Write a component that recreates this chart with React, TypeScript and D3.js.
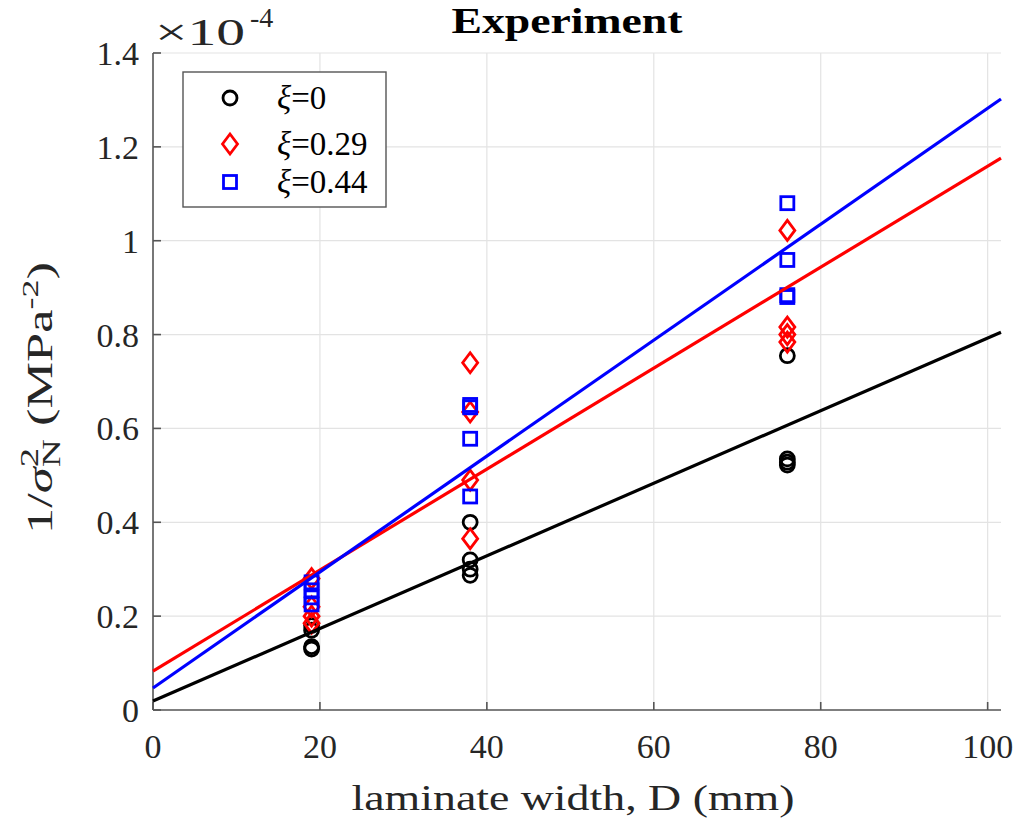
import React from "react";
import * as d3 from "d3";

// ---- data ----
const xTicks = [0, 20, 40, 60, 80, 100];
const yTicks = [0, 0.2, 0.4, 0.6, 0.8, 1, 1.2, 1.4];
const yTickLabels = ["0", "0.2", "0.4", "0.6", "0.8", "1", "1.2", "1.4"];

const xi0D = [19, 19, 19, 19, 38, 38, 38, 38, 76, 76, 76, 76];
const xi0V = [0.13, 0.135, 0.17, 0.18, 0.4, 0.32, 0.3, 0.287, 0.755, 0.535, 0.528, 0.522];

const xi029D = [19, 19, 19, 19, 38, 38, 38, 38, 76, 76, 76, 76];
const xi029V = [0.28, 0.22, 0.2, 0.185, 0.74, 0.635, 0.49, 0.365, 1.022, 0.816, 0.8, 0.784];

const xi044D = [19, 19, 19, 19, 38, 38, 38, 38, 76, 76, 76, 76];
const xi044V = [0.272, 0.255, 0.24, 0.225, 0.65, 0.645, 0.578, 0.455, 1.08, 0.959, 0.884, 0.88];

// fitted lines: endpoints at D = 0 and D = 101.6
const fitD = [0, 101.6];
const fitXi0 = [0.019, 0.805];
const fitXi029 = [0.083, 1.176];
const fitXi044 = [0.047, 1.302];

const legendLabels = ["0", "0.29", "0.44"];

const W = 1021;
const H = 820;
const FONT = "'Liberation Serif', 'DejaVu Serif', serif";

export default function App() {
  const x = d3.scaleLinear().domain([0, 101.6]).range([153, 1001]);
  const y = d3.scaleLinear().domain([0, 1.4]).range([710, 53]);
  const line = d3
    .line<[number, number]>()
    .x((d) => x(d[0]))
    .y((d) => y(d[1]));

  const series = [
    { D: xi0D, V: xi0V, fit: fitXi0, color: "#000000", shape: "circle" },
    { D: xi029D, V: xi029V, fit: fitXi029, color: "#ff0000", shape: "diamond" },
    { D: xi044D, V: xi044V, fit: fitXi044, color: "#0000ff", shape: "square" },
  ];

  const marker = (shape: string, cx: number, cy: number, color: string, key: any) => {
    const sw = 2.8;
    if (shape === "circle")
      return <circle key={key} cx={cx} cy={cy} r={7} fill="none" stroke={color} strokeWidth={sw} />;
    if (shape === "diamond")
      return (
        <path
          key={key}
          d={`M${cx},${cy - 10}L${cx + 7.5},${cy}L${cx},${cy + 10}L${cx - 7.5},${cy}Z`}
          fill="none"
          stroke={color}
          strokeWidth={sw}
        />
      );
    return <rect key={key} x={cx - 6.5} y={cy - 6.5} width={13} height={13} fill="none" stroke={color} strokeWidth={sw} />;
  };

  const x0 = x(0);
  const y0 = y(0);
  const xEnd = x(101.6);
  const yTop = y(1.4);

  return (
    <svg width={W} height={H} style={{ position: "absolute", left: 0, top: 0, background: "#fff" }} fontFamily={FONT}>
      {/* grid */}
      {xTicks.slice(1).map((t) => (
        <line key={"gx" + t} x1={x(t)} x2={x(t)} y1={y0} y2={yTop} stroke="#e3e3e3" strokeWidth={1.2} />
      ))}
      {yTicks.slice(1).map((t) => (
        <line key={"gy" + t} x1={x0} x2={xEnd} y1={y(t)} y2={y(t)} stroke="#e3e3e3" strokeWidth={1.2} />
      ))}

      {/* axes */}
      <line x1={x0} x2={xEnd} y1={y0} y2={y0} stroke="#555" strokeWidth={1.6} />
      <line x1={x0} x2={x0} y1={y0} y2={yTop} stroke="#555" strokeWidth={1.6} />
      {xTicks.map((t) => (
        <line key={"tx" + t} x1={x(t)} x2={x(t)} y1={y0} y2={y0 - 8} stroke="#555" strokeWidth={1.6} />
      ))}
      {yTicks.map((t) => (
        <line key={"ty" + t} x1={x0} x2={x0 + 8} y1={y(t)} y2={y(t)} stroke="#555" strokeWidth={1.6} />
      ))}

      {/* tick labels */}
      {xTicks.map((t) => (
        <text key={"lx" + t} x={x(t)} y={758} textAnchor="middle" fontSize={34} fill="#262626">
          {t}
        </text>
      ))}
      {yTicks.map((t, i) => (
        <text key={"ly" + t} x={139} y={y(t) + 12} textAnchor="end" fontSize={34} fill="#262626">
          {yTickLabels[i]}
        </text>
      ))}

      {/* exponent */}
      <text x={155} y={45} fontSize={38} fill="#262626" textLength={90} lengthAdjust="spacingAndGlyphs">
        ×10
      </text>
      <text x={250} y={27} fontSize={28} fill="#262626">
        -4
      </text>

      {/* points */}
      {series.map((s, si) => (
        <g key={"s" + si}>{s.D.map((d, i) => marker(s.shape, x(d), y(s.V[i]), s.color, i))}</g>
      ))}

      {/* fit lines */}
      {series.map((s, si) => (
        <path
          key={"f" + si}
          d={line([
            [fitD[0], s.fit[0]],
            [fitD[1], s.fit[1]],
          ]) as string}
          fill="none"
          stroke={s.color}
          strokeWidth={3.2}
        />
      ))}

      {/* legend */}
      <rect x={183} y={72} width={203} height={135} fill="#fff" stroke="#555" strokeWidth={1.4} />
      {series.map((s, i) => {
        const ly = [98, 144, 182][i];
        return (
          <g key={"lg" + i}>
            {marker(s.shape, 230, ly, s.color, "m")}
            <text x={277} y={ly + 11} fontSize={33} fill="#000">
              <tspan fontStyle="italic">ξ</tspan>={legendLabels[i]}
            </text>
          </g>
        );
      })}

      {/* title */}
      <text x={567} y={33} textAnchor="middle" fontSize={36} fontWeight="bold" fill="#000" textLength={231} lengthAdjust="spacingAndGlyphs">
        Experiment
      </text>

      {/* x label */}
      <text x={573} y={810} textAnchor="middle" fontSize={36} fill="#262626" textLength={443} lengthAdjust="spacingAndGlyphs">
        laminate width, D (mm)
      </text>

      {/* y label */}
      <g transform="translate(52,398) rotate(-90) scale(1.5,1)">
        <text textAnchor="middle" fontSize={35} fill="#262626">
          1/<tspan fontStyle="italic">σ</tspan>
          <tspan fontSize={26} dy={-14}>2</tspan>
          <tspan fontSize={26} dx={-13} dy={22}>N</tspan>
          <tspan dy={-8}> (MPa</tspan>
          <tspan fontSize={24} dy={-14}>-2</tspan>
          <tspan dy={14}>)</tspan>
        </text>
      </g>
    </svg>
  );
}
